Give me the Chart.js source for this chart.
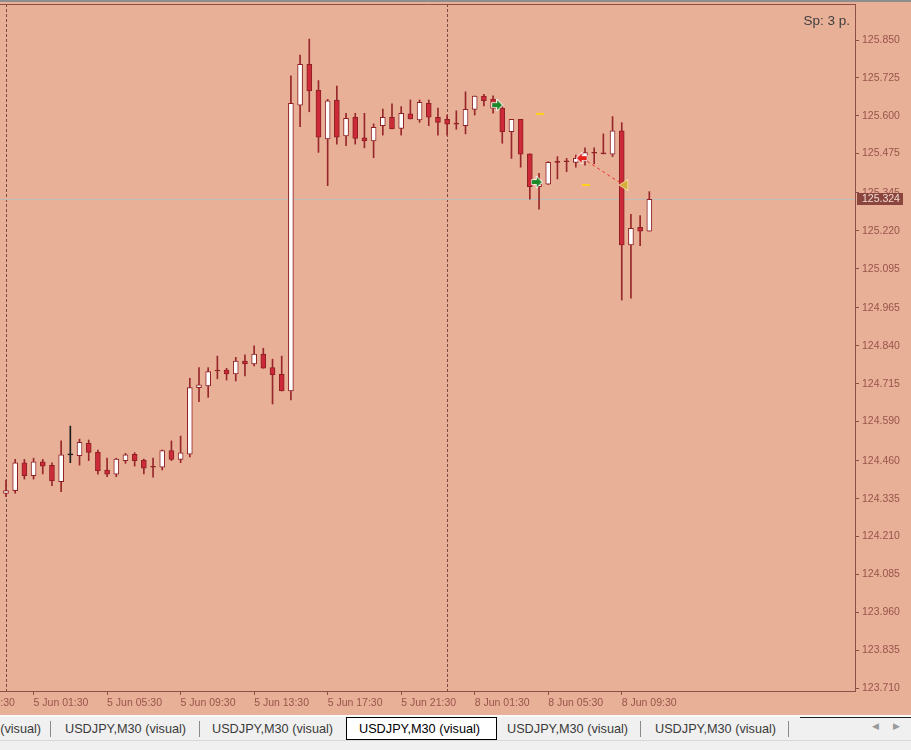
<!DOCTYPE html>
<html><head><meta charset="utf-8">
<script src="https://cdn.jsdelivr.net/npm/chart.js@4.4.1/dist/chart.umd.min.js"></script>
<style>
html,body{margin:0;padding:0;width:911px;height:750px;overflow:hidden;background:#f0f0f0;}
#wrap{position:relative;width:911px;height:750px;}
#c{position:absolute;left:0;top:0;}
#tabs{position:absolute;left:0;top:715px;width:911px;height:35px;background:#f0f0f0;font-family:'Liberation Sans',Arial,sans-serif;font-size:12.7px;color:#3a3a3a;overflow:hidden;}
#tabs .hl{position:absolute;left:0;top:0;width:911px;height:2px;background:#fbfbfb;}
#tabs .dl{position:absolute;top:2px;height:1px;background:#1e1e1e;}
#tabs .t{position:absolute;top:7px;white-space:nowrap;line-height:14px;}
#tabs .sep{position:absolute;top:6px;width:1px;height:16px;background:#8a8a8a;}
#tabs .act{position:absolute;left:346px;top:2px;width:149px;height:21px;background:#fff;border:1px solid #000;}
#tabs .arr{position:absolute;top:6px;font-size:9px;color:#9a9a9a;font-family:'DejaVu Sans',sans-serif;}
#tabs .bl{position:absolute;left:0;top:25px;width:911px;height:1px;background:#d8d8d8;}
</style></head>
<body><div id="wrap"><canvas id="c" width="911" height="715"></canvas>
<div id="tabs">
<div class="hl"></div>
<div class="dl" style="left:800px;width:111px"></div>
<div class="bl"></div>
<div class="act"></div>
<span class="t" style="left:-80px">USDJPY,M30 (visual)</span>
<div class="sep" style="left:50px"></div>
<span class="t" style="left:65px">USDJPY,M30 (visual)</span>
<div class="sep" style="left:199px"></div>
<span class="t" style="left:212px">USDJPY,M30 (visual)</span>
<span class="t" style="left:359px;color:#000">USDJPY,M30 (visual)</span>
<span class="t" style="left:507px">USDJPY,M30 (visual)</span>
<div class="sep" style="left:640px"></div>
<span class="t" style="left:655px">USDJPY,M30 (visual)</span>
<div class="sep" style="left:788px"></div>
<span class="arr" style="left:872px">&#9664;</span>
<span class="arr" style="left:893px">&#9654;</span>
</div></div>
<script>
// ---------- DATA ----------
const times = [
'5 Jun 00:00','5 Jun 00:30','5 Jun 01:00','5 Jun 01:30','5 Jun 02:00','5 Jun 02:30','5 Jun 03:00','5 Jun 03:30','5 Jun 04:00','5 Jun 04:30',
'5 Jun 05:00','5 Jun 05:30','5 Jun 06:00','5 Jun 06:30','5 Jun 07:00','5 Jun 07:30','5 Jun 08:00','5 Jun 08:30','5 Jun 09:00','5 Jun 09:30',
'5 Jun 10:00','5 Jun 10:30','5 Jun 11:00','5 Jun 11:30','5 Jun 12:00','5 Jun 12:30','5 Jun 13:00','5 Jun 13:30','5 Jun 14:00','5 Jun 14:30',
'5 Jun 15:00','5 Jun 15:30','5 Jun 16:00','5 Jun 16:30','5 Jun 17:00','5 Jun 17:30','5 Jun 18:00','5 Jun 18:30','5 Jun 19:00','5 Jun 19:30',
'5 Jun 20:00','5 Jun 20:30','5 Jun 21:00','5 Jun 21:30','5 Jun 22:00','5 Jun 22:30','5 Jun 23:00','5 Jun 23:30',
'8 Jun 00:00','8 Jun 00:30','8 Jun 01:00','8 Jun 01:30','8 Jun 02:00','8 Jun 02:30','8 Jun 03:00','8 Jun 03:30','8 Jun 04:00','8 Jun 04:30',
'8 Jun 05:00','8 Jun 05:30','8 Jun 06:00','8 Jun 06:30','8 Jun 07:00','8 Jun 07:30','8 Jun 08:00','8 Jun 08:30','8 Jun 09:00','8 Jun 09:30',
'8 Jun 10:00','8 Jun 10:30','8 Jun 11:00'];

const open = [124.353,124.362,124.454,124.411,124.457,124.445,124.391,124.480,124.477,124.518,
124.488,124.430,124.416,124.461,124.482,124.463,124.439,124.439,124.494,124.465,
124.482,124.702,124.708,124.757,124.760,124.747,124.790,124.780,124.813,124.768,
124.746,124.691,125.635,125.770,125.685,125.523,125.652,125.533,125.595,125.527,
125.517,125.567,125.595,125.558,125.606,125.586,125.641,125.595,125.588,125.572,
125.567,125.621,125.665,125.655,125.624,125.547,125.588,125.474,125.366,125.374,
125.446,125.448,125.446,125.451,125.476,125.474,125.473,125.550,125.173,125.231,
125.219];
const high = [124.397,124.465,124.465,124.469,124.465,124.454,124.526,124.575,124.532,124.529,
124.496,124.469,124.469,124.485,124.487,124.466,124.469,124.496,124.526,124.542,
124.733,124.768,124.768,124.806,124.766,124.802,124.810,124.840,124.832,124.796,
124.806,125.732,125.800,125.853,125.716,125.654,125.698,125.608,125.608,125.608,
125.573,125.622,125.639,125.630,125.652,125.652,125.652,125.625,125.602,125.616,
125.679,125.665,125.671,125.666,125.630,125.588,125.588,125.474,125.410,125.448,
125.465,125.459,125.470,125.494,125.494,125.540,125.597,125.577,125.274,125.270,
125.349];
const low = [124.342,124.353,124.400,124.400,124.417,124.378,124.358,124.454,124.446,124.461,
124.416,124.408,124.408,124.452,124.443,124.417,124.406,124.430,124.461,124.454,
124.473,124.656,124.670,124.731,124.727,124.724,124.741,124.774,124.766,124.648,
124.691,124.661,125.564,125.613,125.479,125.369,125.506,125.501,125.506,125.494,
125.461,125.536,125.556,125.536,125.589,125.578,125.567,125.536,125.536,125.555,
125.540,125.602,125.632,125.608,125.509,125.459,125.430,125.324,125.291,125.373,
125.391,125.415,125.430,125.437,125.441,125.474,125.465,124.991,124.997,125.171,
125.219];
const close = [124.362,124.454,124.411,124.457,124.443,124.394,124.480,124.480,124.521,124.488,
124.427,124.416,124.466,124.480,124.461,124.436,124.439,124.494,124.465,124.487,
124.702,124.711,124.755,124.757,124.747,124.790,124.780,124.813,124.766,124.744,
124.691,125.641,125.770,125.682,125.529,125.649,125.529,125.591,125.525,125.517,
125.562,125.595,125.556,125.608,125.589,125.644,125.595,125.578,125.572,125.572,
125.621,125.665,125.650,125.624,125.547,125.588,125.473,125.366,125.374,125.446,
125.446,125.448,125.459,125.478,125.476,125.474,125.550,125.173,125.228,125.219,
125.324];

const xTickLabels = ['4 Jun 21:30','5 Jun 01:30','5 Jun 05:30','5 Jun 09:30','5 Jun 13:30','5 Jun 17:30','5 Jun 21:30','8 Jun 01:30','8 Jun 05:30','8 Jun 09:30'];
const yTickLabels = ['125.850','125.725','125.600','125.475','125.345','125.220','125.095','124.965','124.840','124.715','124.590','124.460','124.335','124.210','124.085','123.960','123.835','123.710'];

// trade markers: [bar position, price]
const entryArrows = [[53.5,125.635],[57.8,125.381]];
const exitArrows  = [[62.7,125.460]];
const closeTriangles = [[67.2,125.371]];
const levelDashes = [[58.1,125.606],[63.1,125.371]];
const tradeLink = [[62.7,125.460],[67.2,125.371]];
const spreadText = 'Sp: 3 p.';
const darkBarTimes = ['5 Jun 03:30'];

// ---------- STYLE ----------
const BG = '#e9b098';
const FRAME = '#8c5048';
const LABEL = '#98544a';
const WICK = '#97272a';
const BORDER = '#8e1f22';
const BEAR = '#cc2a38';
const BULL = '#ffffff';

const xTickPos = [];
{
  const found = xTickLabels.map(t => times.indexOf(t));
  const known = found.map((p,i)=>[p,i]).filter(a=>a[0]>=0);
  const step = known[1][0]-known[0][0];
  found.forEach((p,i)=>{ xTickPos.push(p>=0 ? p : known[0][0] - (known[0][1]-i)*step); });
}

const wickData = times.map((t,i)=>({x:i, y:[low[i], high[i]]}));
const bodyData = times.map((t,i)=>({x:i, y:[open[i], close[i]]}));
const isDark = times.map(t => darkBarTimes.includes(t));
const wickColors = times.map((t,i)=> isDark[i] ? '#1c1c1c' : WICK);
const bodyFill = times.map((t,i)=> isDark[i] ? '#1c1c1c' : (close[i] > open[i] ? BULL : (close[i] < open[i] ? BEAR : BORDER)));
const bodyBorder = times.map((t,i)=> isDark[i] ? '#1c1c1c' : BORDER);

function mk(w,h,draw){const c=document.createElement('canvas');c.width=w;c.height=h;draw(c.getContext('2d'));return c;}
function arrowPath(g,flip){
  const pts=[[1,4],[6,4],[6,1],[11,6],[6,11],[6,8],[1,8]];
  g.beginPath();
  pts.forEach((p,k)=>{const x=flip?12-p[0]:p[0];k?g.lineTo(x,p[1]):g.moveTo(x,p[1]);});
  g.closePath();
}
const greenArrow = mk(13,12,g=>{arrowPath(g,false);g.lineWidth=1.6;g.strokeStyle='#ffffff';g.stroke();g.fillStyle='#1f8a2a';g.fill();});
const redArrow = mk(13,12,g=>{arrowPath(g,true);g.lineWidth=1.6;g.strokeStyle='#ffffff';g.stroke();g.fillStyle='#e8231e';g.fill();});
const yTri = mk(11,12,g=>{g.beginPath();g.moveTo(1.5,6);g.lineTo(9.5,1);g.lineTo(9.5,11);g.closePath();g.lineWidth=1.2;g.strokeStyle='#fff3c8';g.stroke();g.fillStyle='#d4ad3a';g.fill();});

const pt = a => a.map(p=>({x:p[0], y:p[1]}));

const chromePlugin = {
  id:'chrome',
  beforeDraw(chart){
    const c=chart.ctx, a=chart.chartArea, xs=chart.scales.x, ys=chart.scales.y;
    c.save();
    c.fillStyle=BG; c.fillRect(0,0,chart.width,chart.height);
    c.fillStyle='#8e8e8e'; c.fillRect(0,0,chart.width,2);
    c.strokeStyle='#7b4a40'; c.lineWidth=1; c.setLineDash([3,2]);
    times.forEach((t,i)=>{ if(t.endsWith('00:00')){ const px=Math.round(xs.getPixelForValue(i))+0.5; c.beginPath(); c.moveTo(px,a.top); c.lineTo(px,a.bottom); c.stroke(); }});
    c.setLineDash([]);
    const py=Math.round(ys.getPixelForValue(close[close.length-1]))+0.5;
    c.strokeStyle='#bcbcbc'; c.beginPath(); c.moveTo(a.left,py); c.lineTo(a.right,py); c.stroke();
    c.restore();
  },
  afterDraw(chart){
    const c=chart.ctx, a=chart.chartArea, ys=chart.scales.y;
    c.save();
    c.strokeStyle=FRAME; c.lineWidth=1;
    c.beginPath(); c.moveTo(0,a.top+0.5); c.lineTo(a.right+0.5,a.top+0.5); c.stroke();
    const last=close[close.length-1];
    const py=Math.round(ys.getPixelForValue(last));
    c.fillStyle='#8a463e'; c.fillRect(a.right+2, py-6, 46, 12);
    c.fillStyle='#f3dcd2'; c.font='10.5px "Liberation Sans"'; c.textBaseline='middle'; c.textAlign='left';
    c.fillText(last.toFixed(3), a.right+7, py+0.5);
    c.fillStyle='#3e3e3e'; c.font='13.5px "Liberation Sans"'; c.textAlign='right';
    c.fillText(spreadText, a.right-5, 21);
    c.restore();
  }
};

new Chart(document.getElementById('c'), {
  data:{
    datasets:[
      {type:'scatter', data:pt(entryArrows), pointStyle:greenArrow, order:0},
      {type:'scatter', data:pt(exitArrows), pointStyle:redArrow, order:0},
      {type:'scatter', data:pt(closeTriangles), pointStyle:yTri, order:0},
      {type:'scatter', data:pt(levelDashes), pointStyle:'line', pointRadius:4, pointBorderWidth:2, borderColor:'#ffd21a', backgroundColor:'#ffd21a', order:0},
      {type:'line', data:pt(tradeLink), borderColor:'#e8302a', borderWidth:1, borderDash:[3,3], pointRadius:0, order:1},
      {type:'bar', data:bodyData, barThickness:5, backgroundColor:bodyFill, borderColor:bodyBorder, borderWidth:1, borderSkipped:false, minBarLength:1, grouped:false, order:2},
      {type:'bar', data:wickData, barThickness:1, backgroundColor:wickColors, borderWidth:0, grouped:false, order:3}
    ]
  },
  options:{
    responsive:false, animation:false, events:[],
    layout:{autoPadding:false, padding:{top:4,left:0,right:0,bottom:0}},
    plugins:{legend:{display:false}, tooltip:{enabled:false}},
    scales:{
      x:{type:'linear', min:-0.653, max:92.38, offset:false,
         grid:{display:true, drawOnChartArea:false, drawTicks:true, tickLength:4, color:FRAME, offset:false},
         border:{display:true, color:FRAME},
         afterBuildTicks(s){ s.ticks = xTickPos.map(v=>({value:v})); },
         afterFit(s){ s.height=24; s.paddingLeft=0; s.paddingRight=0; },
         ticks:{autoSkip:false, maxRotation:0, minRotation:0, align:'start', padding:2, color:LABEL,
           font:{family:'Liberation Sans', size:10.5},
           callback:(v,i)=> xTickLabels[i]}
      },
      y:{type:'linear', position:'right', min:123.7001, max:125.9689,
         grid:{display:true, drawOnChartArea:false, drawTicks:true, tickLength:4, color:FRAME},
         border:{display:true, color:FRAME},
         afterBuildTicks(s){ s.ticks = yTickLabels.map(v=>({value:parseFloat(v)})); },
         afterFit(s){ s.width=56; s.paddingTop=0; s.paddingBottom=0; },
         ticks:{autoSkip:false, padding:3, color:LABEL, font:{family:'Liberation Sans', size:10.5},
           callback:(v,i)=> yTickLabels[i]}
      }
    }
  },
  plugins:[chromePlugin]
});
</script></body></html>
